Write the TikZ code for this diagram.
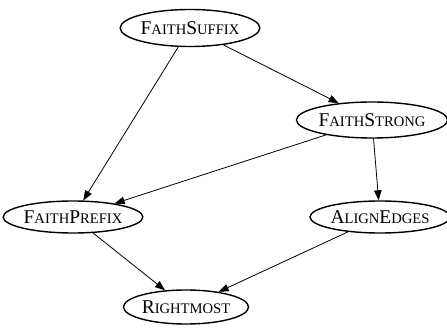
\documentclass[tikz,border=0pt]{standalone}
\usepackage{fontspec}
\setmainfont{Liberation Serif}
\usetikzlibrary{shapes.geometric,arrows.meta}
\newcommand{\bigc}[1]{{\fontsize{19.5}{19.5}\selectfont #1}}
\newcommand{\smc}[1]{{\fontsize{14.6}{14.6}\selectfont #1}}
\begin{document}
\begin{tikzpicture}[x=1pt,y=-1pt,
  st/.style={ellipse,draw,line width=1.4pt,inner sep=0pt,minimum width=#1},
  st/.default=130pt,
  ar/.style={-{Triangle[length=10pt,width=7.5pt]},line width=0.8pt}]
\useasboundingbox (0,0) rectangle (447,331);
\node[st=135pt,minimum height=37pt] (fs) at (190,28) {\bigc{F}\smc{AITH}\bigc{S}\smc{UFFIX}};
\node[st=130pt,minimum height=36pt] (fst) at (372,120) {\bigc{F}\smc{AITH}\bigc{S}\smc{TRONG}};
\node[st=124pt,minimum height=32pt] (fp) at (73,217) {\bigc{F}\smc{AITH}\bigc{P}\smc{REFIX}};
\node[st=128pt,minimum height=32pt] (ae) at (380,217) {\bigc{A}\smc{LIGN}\bigc{E}\smc{DGES}};
\node[st=122pt,minimum height=34pt] (rm) at (186,307) {\bigc{R}\smc{IGHTMOST}};
\draw[ar] (fs) -- (fst);
\draw[ar] (fs) -- (fp);
\draw[ar] (fst) -- (fp);
\draw[ar] (fst) -- (ae);
\draw[ar] (fp) -- (rm);
\draw[ar] (ae) -- (rm);
\end{tikzpicture}
\end{document}
